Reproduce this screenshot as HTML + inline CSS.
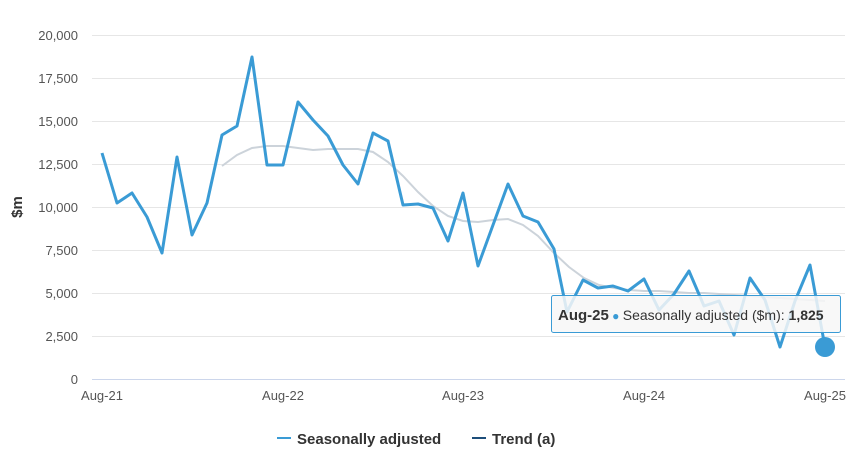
<!DOCTYPE html>
<html><head><meta charset="utf-8"><style>
body{margin:0;background:#fff;font-family:"Liberation Sans",sans-serif}
</style></head><body>
<svg width="860" height="461" viewBox="0 0 860 461" xmlns="http://www.w3.org/2000/svg" font-family="Liberation Sans, sans-serif">
<g stroke="#e6e6e6" stroke-width="1">
<line x1="92" y1="35.5" x2="845" y2="35.5"/>
<line x1="92" y1="78.5" x2="845" y2="78.5"/>
<line x1="92" y1="121.5" x2="845" y2="121.5"/>
<line x1="92" y1="164.5" x2="845" y2="164.5"/>
<line x1="92" y1="207.5" x2="845" y2="207.5"/>
<line x1="92" y1="250.5" x2="845" y2="250.5"/>
<line x1="92" y1="293.5" x2="845" y2="293.5"/>
<line x1="92" y1="336.5" x2="845" y2="336.5"/>
</g>
<line x1="92" y1="379.5" x2="845" y2="379.5" stroke="#ccd6eb"/>
<g font-size="13" fill="#555" text-anchor="end">
<text x="78" y="40">20,000</text><text x="78" y="83">17,500</text><text x="78" y="126">15,000</text><text x="78" y="169">12,500</text><text x="78" y="212">10,000</text><text x="78" y="255">7,500</text><text x="78" y="298">5,000</text><text x="78" y="341">2,500</text><text x="78" y="384">0</text>
</g>
<text transform="translate(22,207) rotate(-90)" font-size="15" font-weight="bold" fill="#333" text-anchor="middle">$m</text>
<g font-size="13" fill="#555" text-anchor="middle">
<text x="102" y="400">Aug-21</text><text x="283" y="400">Aug-22</text><text x="463" y="400">Aug-23</text><text x="644" y="400">Aug-24</text><text x="825" y="400">Aug-25</text>
</g>
<polyline fill="none" stroke="#ccd3da" stroke-width="2" points="222,166 237,155 252,148 267,146 283,146 298,148 313,150 328,149 343,149 358,149 373,152 388,162 403,176 418,192 433,206 448,216 463,221 478,222 493,220 508,219 523,225 538,236 554,253 569,267 584,278 599,285 614,288 629,290 644,291 659,291 674,292 689,293 704,293 719,294 734,295 750,296 765,297 780,298 795,299 810,300 825,301"/>
<polyline fill="none" stroke="#3a9bd5" stroke-width="3" stroke-linejoin="round" points="102,153 117,203 132,193 147,217 162,253 177,157 192,235 207,203 222,135 237,126 252,57 267,165 283,165 298,102 313,120 328,136 343,165 358,184 373,133 388,141 403,205 418,204 433,208 448,241 463,193 478,266 493,225 508,184 523,216 538,222 554,249 567,312 583,280 598,288 613,286 628,291 644,279 659,310 674,294 689,271 704,306 719,301 734,335 750,278 765,300 780,347 795,301 810,265 825,347"/>
<circle cx="825" cy="347" r="10" fill="#3a9bd5"/>
<rect x="551.5" y="295.5" width="289" height="37" rx="2" fill="#f7f7f7" fill-opacity="0.85" stroke="#3a9bd5" stroke-width="1"/>
<text x="558" y="320" font-size="15" fill="#333"><tspan font-weight="bold">Aug-25</tspan><tspan fill="#3a9bd5" font-size="12"> ● </tspan><tspan font-size="14">Seasonally adjusted ($m): </tspan><tspan font-size="14" font-weight="bold">1,825</tspan></text>
<line x1="277" y1="438" x2="291" y2="438" stroke="#3a9bd5" stroke-width="2"/>
<text x="297" y="444" font-size="15" font-weight="bold" fill="#333">Seasonally adjusted</text>
<line x1="472" y1="438" x2="486" y2="438" stroke="#1d4e7a" stroke-width="2"/>
<text x="492" y="444" font-size="15" font-weight="bold" fill="#333">Trend (a)</text>
</svg>
</body></html>
